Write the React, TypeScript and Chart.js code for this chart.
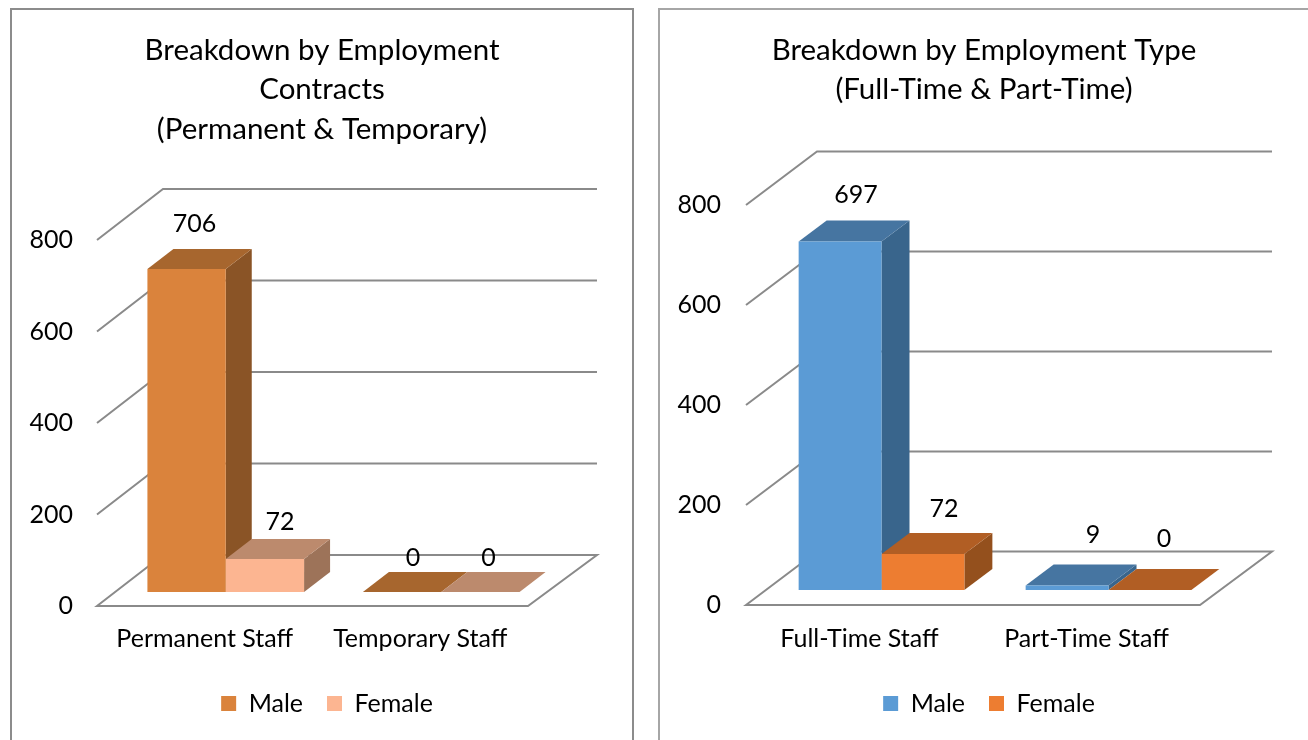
import React, { useEffect, useRef } from "react";
import { Chart, registerables } from "chart.js";

Chart.register(...registerables);

const FONT = "Lato";
const contractCategories = ["Permanent Staff", "Temporary Staff"];
const contractMale = [706, 0];
const contractFemale = [72, 0];
const typeCategories = ["Full-Time Staff", "Part-Time Staff"];
const typeMale = [697, 9];
const typeFemale = [72, 0];
const yTicks = [0, 200, 400, 600, 800];
const contractTitle = ["Breakdown by Employment", "Contracts", "(Permanent & Temporary)"];
const typeTitle = ["Breakdown by Employment Type", "(Full-Time & Part-Time)"];

const makeBar3d = (o: any) => ({
  id: "bar3d",
  beforeDraw(chart: any) {
    chart.legend.left += o.legendShift;
    chart.legend.right += o.legendShift;
  },
  beforeDatasetsDraw(chart: any) {
    const { ctx, chartArea: ca, scales } = chart;
    const y = scales.y;
    ctx.save();
    ctx.strokeStyle = "#8a8a8a";
    ctx.lineWidth = 2;
    ctx.lineJoin = "miter";
    const bx = ca.left + o.wallX;
    const bxr = ca.right + o.wallXR;
    yTicks.forEach((t) => {
      const py = y.getPixelForValue(t);
      const wy = py + o.wallY;
      ctx.beginPath();
      ctx.moveTo(ca.left, py);
      ctx.lineTo(bx, wy);
      ctx.lineTo(bxr, wy);
      if (t === 0) {
        ctx.lineTo(ca.right, py);
        ctx.closePath();
      }
      ctx.stroke();
    });
    ctx.restore();
    ctx.save();
    ctx.translate(o.shiftX, o.shiftY);
    chart.data.datasets.forEach((ds: any, i: number) => {
      chart.getDatasetMeta(i).data.forEach((b: any) => {
        const l = b.x - b.width / 2;
        const r = b.x + b.width / 2;
        ctx.fillStyle = ds.sideColor;
        ctx.beginPath();
        ctx.moveTo(r, b.y);
        ctx.lineTo(r + o.depthX, b.y + o.depthY);
        ctx.lineTo(r + o.depthX, b.base + o.depthY);
        ctx.lineTo(r, b.base);
        ctx.closePath();
        ctx.fill();
        ctx.fillStyle = ds.topColor;
        ctx.beginPath();
        ctx.moveTo(l, b.y);
        ctx.lineTo(l + o.depthX, b.y + o.depthY);
        ctx.lineTo(r + o.depthX, b.y + o.depthY);
        ctx.lineTo(r, b.y);
        ctx.closePath();
        ctx.fill();
      });
    });
  },
  afterDatasetsDraw(chart: any) {
    const { ctx } = chart;
    ctx.restore();
    ctx.save();
    ctx.fillStyle = "#000";
    ctx.font = `${o.fontSize}px ${FONT}`;
    ctx.textAlign = "center";
    ctx.textBaseline = "middle";
    chart.data.datasets.forEach((ds: any, i: number) => {
      chart.getDatasetMeta(i).data.forEach((b: any, j: number) => {
        const off = o.labelOffsets[i][j];
        ctx.fillText(
          String(ds.data[j]),
          b.x + o.shiftX + o.depthX / 2 + off[0],
          b.y + o.shiftY + o.depthY + off[1]
        );
      });
    });
    ctx.restore();
  },
});

function ChartBox(props: any) {
  const ref = useRef<HTMLCanvasElement>(null);
  useEffect(() => {
    const c = props.cfg;
    const chart = new Chart(ref.current as HTMLCanvasElement, {
      type: "bar",
      plugins: [makeBar3d(c)],
      data: {
        labels: c.categories,
        datasets: [
          {
            label: "Male",
            data: c.male,
            backgroundColor: c.colors[0][0],
            topColor: c.colors[0][1],
            sideColor: c.colors[0][2],
            clip: false,
            categoryPercentage: c.groupPct,
            barPercentage: 1,
          },
          {
            label: "Female",
            data: c.female,
            backgroundColor: c.colors[1][0],
            topColor: c.colors[1][1],
            sideColor: c.colors[1][2],
            clip: false,
            categoryPercentage: c.groupPct,
            barPercentage: 1,
          },
        ] as any,
      },
      options: {
        responsive: false,
        animation: false,
        layout: { padding: { top: 0, bottom: 16, left: 0, right: 0 } },
        scales: {
          x: {
            grid: { display: false },
            border: { display: false },
            ticks: {
              color: "#000",
              font: { family: FONT, size: c.fontSize },
              padding: c.xPad,
              maxRotation: 0,
              autoSkip: false,
            },
            afterFit: (s: any) => {
              s.height = c.xAxisHeight;
            },
          },
          y: {
            min: 0,
            max: 800,
            grid: { display: false },
            border: { display: false },
            ticks: {
              stepSize: 200,
              color: "#000",
              font: { family: FONT, size: c.fontSize },
              padding: c.yPad,
            },
            afterFit: (s: any) => {
              s.width = c.yAxisWidth;
            },
          },
          spacer: {
            position: "right",
            grid: { display: false },
            border: { display: false },
            ticks: { display: false },
            afterFit: (s: any) => {
              s.width = c.rightGap;
            },
          },
        },
        plugins: {
          title: {
            display: true,
            text: c.title,
            color: "#000",
            font: { family: FONT, size: c.titleSize, weight: "normal", lineHeight: 39.5 / c.titleSize },
            padding: { top: 20.5, bottom: c.titleBottom },
          },
          legend: {
            position: "bottom",
            labels: {
              color: "#000",
              font: { family: FONT, size: c.fontSize },
              boxWidth: 15,
              boxHeight: 15,
              padding: 24,
            },
          },
          tooltip: { enabled: false },
        } as any,
      },
    });
    return () => chart.destroy();
  }, []);
  return (
    <canvas
      ref={ref}
      width={props.cfg.width}
      height={732}
      style={{ position: "absolute", left: props.left, top: 0, display: "block" }}
    />
  );
}

const leftCfg = {
  categories: contractCategories,
  male: contractMale,
  female: contractFemale,
  title: contractTitle,
  colors: [
    ["#DA833C", "#A7662E", "#8A5426"],
    ["#FCB591", "#BC8A6D", "#9D7359"],
  ],
  width: 624,
  groupPct: 0.727,
  fontSize: 25,
  titleSize: 29.5,
  titleBottom: 91,
  xPad: 9.5,
  yPad: 16,
  xAxisHeight: 61,
  yAxisWidth: 87,
  rightGap: 106,
  shiftX: 21,
  shiftY: -14,
  depthX: 26,
  depthY: -20,
  wallX: 66,
  wallXR: 69,
  wallY: -51,
  legendShift: 5,
  labelOffsets: [
    [[-5, -25], [-2, -14]],
    [[2, -17], [-5, -14]],
  ],
};

const rightCfg = {
  ...leftCfg,
  categories: typeCategories,
  male: typeMale,
  female: typeFemale,
  title: typeTitle,
  colors: [
    ["#5B9BD5", "#4675A1", "#39658C"],
    ["#ED7D31", "#B15E24", "#94501D"],
  ],
  width: 652,
  groupPct: 0.73,
  titleBottom: 95.5,
  xPad: 10.5,
  yPad: 17,
  xAxisHeight: 62,
  yAxisWidth: 88,
  rightGap: 110,
  shiftX: 22,
  shiftY: -15,
  depthX: 28,
  depthY: -21,
  wallX: 71,
  wallXR: 72,
  wallY: -53.5,
  legendShift: 5,
  labelOffsets: [
    [[2, -26], [12, -30]],
    [[7, -24], [0, -30]],
  ],
};

export default function App() {
  return (
    <div style={{ position: "fixed", left: 0, top: 0, width: 1308, height: 740, overflow: "hidden", background: "#fff" }}>
      <div
        style={{
          position: "absolute",
          left: 10,
          top: 8,
          width: 624,
          height: 740,
          borderLeft: "2px solid #8c8c8c",
          borderTop: "2px solid #8c8c8c",
          borderRight: "2px solid #8c8c8c",
          boxSizing: "border-box",
        }}
      >
        <ChartBox cfg={leftCfg} left={-2} />
      </div>
      <div
        style={{
          position: "absolute",
          left: 658,
          top: 8,
          width: 700,
          height: 740,
          borderLeft: "2px solid #a6a6a6",
          borderTop: "2px solid #a6a6a6",
          boxSizing: "border-box",
        }}
      >
        <ChartBox cfg={rightCfg} left={-2} />
      </div>
    </div>
  );
}
